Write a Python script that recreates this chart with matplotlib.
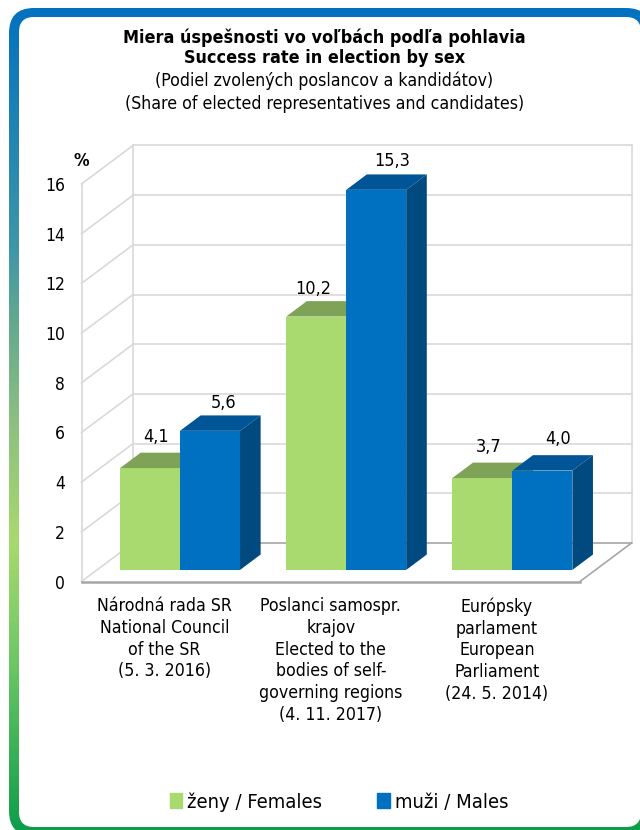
import numpy as np
import matplotlib
matplotlib.use('Agg')
import matplotlib.pyplot as plt
from matplotlib.colors import LinearSegmentedColormap
from matplotlib.patches import FancyBboxPatch, Patch, Polygon

categories = ['Národná rada SR\nNational Council\nof the SR\n(5. 3. 2016)',
              'Poslanci samospr.\nkrajov\nElected to the\nbodies of self-\ngoverning regions\n(4. 11. 2017)',
              'Európsky\nparlament\nEuropean\nParliament\n(24. 5. 2014)']
females = [4.1, 10.2, 3.7]
males = [5.6, 15.3, 4.0]
yticks = [0, 2, 4, 6, 8, 10, 12, 14, 16]
female_labels = ['4,1', '10,2', '3,7']
male_labels = ['5,6', '15,3', '4,0']

plt.rcParams['font.family'] = ['DejaVu Sans']
plt.rcParams['font.stretch'] = 'condensed'

W, H = 640, 830
GREEN, GREEN_TOP = '#a9da6f', '#7fa356'
BLUE, BLUE_TOP, BLUE_SIDE = '#0070c0', '#005596', '#004a80'
GRID = '#d9d9d9'
FLOOR = '#a6a6a6'

# wall depth in data units
DX, DY = 0.31, 1.55
FRONT, DEPTH = 0.3, 0.4
BAR_W = 0.361

fig = plt.figure(figsize=(W / 100, H / 100), dpi=100)

# rounded frame with the blue to green gradient
bg = fig.add_axes([0, 0, 1, 1])
bg.set_xlim(0, W)
bg.set_ylim(H, 0)
bg.axis('off')
cmap = LinearSegmentedColormap.from_list('frame', [
    (0.0, '#0070c0'), (0.3, '#3f96a8'), (0.38, '#5fa890'), (0.51, '#8dc07f'),
    (0.655, '#a8d96e'), (0.8, '#6cc765'), (1.0, '#0f9d4a')])
im = bg.imshow(np.linspace(0, 1, 256).reshape(-1, 1), cmap=cmap, aspect='auto',
               extent=[0, W, H, 0])
outer = FancyBboxPatch((9, 8), 642, 828, boxstyle='round,pad=0,rounding_size=25',
                       transform=bg.transData, fc='none', ec='none')
bg.add_patch(outer)
im.set_clip_path(outer)
bg.add_patch(FancyBboxPatch((19, 17), 622, 810, boxstyle='round,pad=0,rounding_size=15',
                            fc='white', ec='none'))

ax = fig.add_axes([81.5 / W, 1 - 581.5 / H, 498.5 / W, 397.5 / H])
ax.patch.set_alpha(0)
ax.set_xlim(0, 3)
ax.set_ylim(0, 16)
for s in ax.spines.values():
    s.set_visible(False)

# walls and floor
for t in yticks:
    color = FLOOR if t == 0 else GRID
    ax.plot([DX, 3 + DX], [t + DY, t + DY], color=color, lw=1.2, clip_on=False, zorder=1)
    ax.plot([0, DX], [t, t + DY], color=GRID, lw=1.2, clip_on=False, zorder=1)
ax.plot([0, 0], [0, 16], color=GRID, lw=1.2, clip_on=False, zorder=1)
ax.plot([DX, DX], [DY, 16 + DY], color=GRID, lw=1.2, clip_on=False, zorder=1)
ax.plot([3 + DX, 3 + DX], [DY, 16 + DY], color=GRID, lw=1.2, clip_on=False, zorder=1)
ax.plot([0, 3], [0, 0], color=FLOOR, lw=1.8, clip_on=False, zorder=2)
ax.plot([3, 3 + DX], [0, DY], color=FLOOR, lw=1.2, clip_on=False, zorder=2)


def draw_bars(x, values, face, top, side, z):
    base = FRONT * DY
    ddx, ddy = DEPTH * DX, DEPTH * DY
    ax.bar(x, values, BAR_W, bottom=base, color=face, zorder=z, clip_on=False)
    for xi, v in zip(x, values):
        l, r = xi - BAR_W / 2, xi + BAR_W / 2
        h = base + v
        ax.add_patch(Polygon([(l, h), (r, h), (r + ddx, h + ddy), (l + ddx, h + ddy)],
                             fc=top, ec='none', zorder=z, clip_on=False))
        ax.add_patch(Polygon([(r, base), (r + ddx, base + ddy), (r + ddx, h + ddy), (r, h)],
                             fc=side, ec='none', zorder=z, clip_on=False))


centers = np.arange(3) + 0.5
front_x = centers + FRONT * DX
for i in range(3):
    draw_bars([front_x[i] - BAR_W / 2], [females[i]], GREEN, GREEN_TOP, GREEN_TOP, 3 + 2 * i)
    draw_bars([front_x[i] + BAR_W / 2], [males[i]], BLUE, BLUE_TOP, BLUE_SIDE, 4 + 2 * i)

# data labels, nudged like the original
f_off = [(6, 31), (-3, 28), (6, 31)]
m_off = [(14, 28), (16, 29), (16, 32)]
for i in range(3):
    ax.annotate(female_labels[i], (front_x[i] - BAR_W / 2, FRONT * DY + females[i]),
                xytext=f_off[i], textcoords='offset pixels', ha='center', va='center',
                fontsize=13, color='black', zorder=20)
    ax.annotate(male_labels[i], (front_x[i] + BAR_W / 2, FRONT * DY + males[i]),
                xytext=m_off[i], textcoords='offset pixels', ha='center', va='center',
                fontsize=13, color='black', zorder=20)

ax.set_yticks(yticks)
ax.set_xticks(centers)
ax.set_xticklabels(categories, fontsize=12.7, linespacing=1.26)
ax.tick_params(axis='both', length=0)
ax.tick_params(axis='y', labelsize=12.5, pad=12)
ax.tick_params(axis='x', pad=11.5)

fig.text(324.5 / W, 1 - 38 / H, 'Miera úspešnosti vo voľbách podľa pohlavia', ha='center',
         va='center', fontsize=12.9, fontweight='bold')
fig.text(324.5 / W, 1 - 58 / H, 'Success rate in election by sex', ha='center',
         va='center', fontsize=12.9, fontweight='bold')
fig.text(324.5 / W, 1 - 81 / H, '(Podiel zvolených poslancov a kandidátov)', ha='center',
         va='center', fontsize=12.7)
fig.text(324.5 / W, 1 - 104 / H, '(Share of elected representatives and candidates)', ha='center',
         va='center', fontsize=12.7)
fig.text(81 / W, 1 - 161 / H, '%', ha='center', va='center', fontsize=12.5, fontweight='bold')

handles = [Patch(color=GREEN, label='ženy / Females'), Patch(color=BLUE, label='muži / Males')]
fig.legend(handles=handles, ncol=2, frameon=False, fontsize=14.5, loc='center',
           bbox_to_anchor=(339 / W, 1 - 802 / H), handlelength=0.6, handleheight=0.77,
           handletextpad=0.25, columnspacing=2.75)

fig.savefig('out.png', dpi=100)
